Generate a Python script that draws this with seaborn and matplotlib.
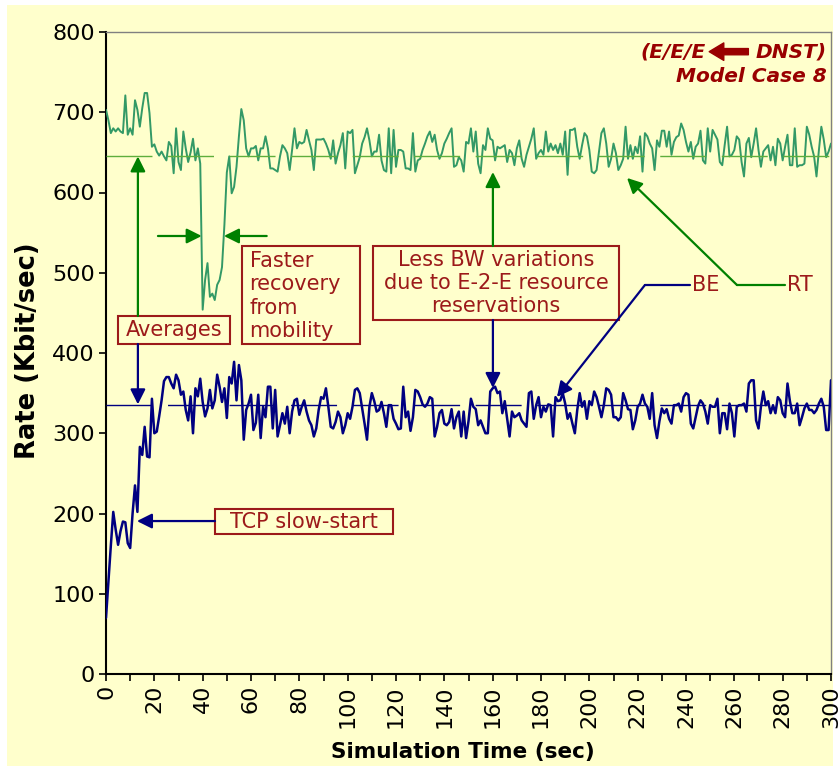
import matplotlib
matplotlib.use("Agg")
import matplotlib.pyplot as plt
from matplotlib.patches import Rectangle
import pandas as pd
import seaborn as sns

# ---- data -------------------------------------------------------------
time_s = list(range(0, 301))

rt_rate = [
    703, 690, 674, 680, 676, 680, 676, 674, 721, 672, 680, 672, 715, 703, 682, 705, 724, 724, 699, 657,
    660, 651, 646, 651, 645, 640, 663, 658, 624, 680, 638, 628, 676, 655, 638, 650, 667, 640, 655, 636,
    454, 491, 512, 470, 474, 466, 485, 491, 507, 560, 625, 645, 599, 607, 632, 670, 704, 690, 655, 645,
    655, 655, 658, 640, 655, 655, 670, 655, 630, 630, 628, 626, 645, 659, 655, 649, 628, 653, 680, 655,
    663, 661, 663, 678, 665, 653, 628, 666, 666, 666, 667, 661, 653, 642, 665, 636, 649, 659, 674, 630,
    676, 674, 678, 624, 634, 644, 661, 669, 680, 665, 645, 651, 651, 672, 640, 628, 626, 680, 624, 678,
    632, 653, 653, 651, 630, 630, 628, 674, 626, 640, 642, 653, 661, 670, 676, 663, 672, 653, 642, 649,
    661, 667, 674, 680, 632, 634, 644, 640, 626, 663, 661, 680, 651, 676, 636, 624, 659, 653, 680, 667,
    665, 640, 657, 655, 657, 659, 638, 653, 649, 634, 655, 665, 642, 632, 647, 657, 667, 680, 642, 649,
    653, 647, 676, 651, 661, 653, 659, 649, 661, 647, 676, 622, 678, 678, 680, 657, 642, 659, 674, 670,
    653, 626, 624, 628, 651, 674, 680, 661, 632, 642, 661, 649, 628, 634, 642, 682, 642, 659, 642, 657,
    649, 670, 626, 674, 670, 661, 655, 628, 665, 657, 677, 677, 657, 676, 647, 663, 669, 671, 686, 678,
    663, 651, 663, 642, 657, 661, 677, 640, 636, 680, 651, 678, 672, 666, 638, 634, 659, 682, 645, 647,
    653, 670, 666, 638, 620, 661, 668, 644, 661, 680, 653, 632, 651, 655, 659, 640, 657, 634, 667, 661,
    640, 657, 672, 634, 634, 680, 632, 634, 634, 636, 682, 672, 657, 645, 620, 653, 682, 666, 644, 651,
    661,
]

be_rate = [
    70, 115, 160, 202, 180, 161, 178, 190, 189, 163, 157, 200, 235, 202, 283, 273, 308, 271, 270, 343,
    300, 302, 321, 341, 365, 370, 370, 362, 356, 373, 366, 348, 352, 329, 316, 346, 300, 356, 346, 368,
    339, 321, 331, 354, 331, 341, 373, 358, 339, 356, 319, 370, 362, 389, 341, 385, 366, 292, 329, 337,
    348, 304, 313, 348, 294, 333, 320, 358, 358, 306, 354, 296, 310, 325, 312, 333, 300, 327, 341, 343,
    323, 333, 341, 327, 316, 310, 296, 306, 329, 345, 343, 356, 333, 308, 306, 314, 327, 320, 300, 310,
    325, 318, 333, 354, 356, 350, 331, 312, 292, 333, 350, 340, 327, 329, 339, 325, 308, 335, 335, 318,
    312, 305, 306, 358, 320, 327, 303, 320, 354, 352, 345, 336, 333, 337, 345, 343, 296, 308, 325, 329,
    312, 310, 314, 330, 306, 320, 327, 296, 327, 294, 315, 343, 333, 330, 310, 316, 308, 300, 300, 352,
    356, 358, 350, 352, 325, 340, 318, 296, 327, 320, 322, 325, 316, 312, 308, 350, 352, 318, 335, 345,
    320, 333, 327, 336, 335, 296, 345, 340, 341, 350, 337, 318, 325, 312, 300, 329, 350, 333, 340, 318,
    340, 335, 352, 345, 333, 320, 335, 356, 354, 348, 320, 320, 316, 320, 350, 341, 330, 329, 305, 316,
    333, 337, 348, 337, 333, 318, 350, 310, 294, 315, 331, 325, 330, 318, 312, 335, 335, 337, 327, 345,
    350, 348, 312, 306, 320, 334, 341, 337, 327, 312, 335, 333, 333, 343, 300, 325, 325, 305, 337, 325,
    296, 333, 335, 335, 337, 327, 362, 366, 366, 316, 306, 333, 352, 335, 340, 325, 335, 325, 345, 341,
    325, 320, 362, 340, 325, 325, 337, 310, 320, 331, 337, 329, 329, 325, 329, 337, 343, 333, 304, 304,
    366,
]

RT_AVG = 645
BE_AVG = 335

x_ticks = list(range(0, 301, 20))
x_minor_ticks = list(range(0, 301, 10))
y_ticks = list(range(0, 801, 100))

# ---- style --------------------------------------------------------------
BG = "#FFFFCC"
RT_COLOR = "#339966"
RT_AVG_COLOR = "#5FAE3C"
BE_COLOR = "#000080"
ARROW_GREEN = "#008000"
NOTE_RED = "#9C1A1A"
TITLE_RED = "#990000"
NOTE_SIZE = 15

sns.set_style("ticks")
plt.rcParams["font.family"] = ["DejaVu Sans"]
plt.rcParams["text.color"] = "black"
plt.rcParams["xtick.color"] = "black"
plt.rcParams["ytick.color"] = "black"

df = pd.DataFrame({"time": time_s, "RT": rt_rate, "BE": be_rate})

fig = plt.figure(figsize=(8.4, 7.71), dpi=100)
fig.patch.set_facecolor("white")
fig.patches.append(Rectangle((7 / 840, 5 / 771), 826 / 840, 761 / 771,
                             transform=fig.transFigure, facecolor=BG,
                             edgecolor="none", zorder=-5))

ax = fig.add_axes([106 / 840, 97 / 771, 725 / 840, 642 / 771])
ax.set_facecolor(BG)

sns.lineplot(data=df, x="time", y="RT", ax=ax, color=RT_COLOR, linewidth=1.4,
             legend=False, zorder=3)
sns.lineplot(data=df, x="time", y="BE", ax=ax, color=BE_COLOR, linewidth=1.8,
             legend=False, zorder=3)

ax.axhline(RT_AVG, color=RT_AVG_COLOR, linewidth=1.0, dashes=(33.1, 11.2), zorder=4)
ax.axhline(BE_AVG, color=BE_COLOR, linewidth=1.0, dashes=(33.1, 11.2), zorder=4)

ax.set_xlim(0, 300)
ax.set_ylim(0, 800)
ax.set_xticks(x_ticks)
ax.set_xticks(x_minor_ticks, minor=True)
ax.set_yticks(y_ticks)
ax.set_xticklabels([str(v) for v in x_ticks], rotation=90, fontsize=16)
ax.set_yticklabels([str(v) for v in y_ticks], fontsize=16)
ax.tick_params(axis="both", which="both", direction="out", length=5, width=1.2,
               color="black", labelcolor="black", pad=3)
ax.set_xlabel("")
ax.set_ylabel("")

for side in ("left", "bottom"):
    ax.spines[side].set_color("black")
    ax.spines[side].set_linewidth(1.5)
for side in ("top", "right"):
    ax.spines[side].set_visible(True)
    ax.spines[side].set_color("#808080")
    ax.spines[side].set_linewidth(1.0)

fig.text(28 / 840, 1 - 351 / 771, "Rate (Kbit/sec)", rotation=90, ha="center",
         va="center", fontsize=18.5, fontweight="bold", color="black")
fig.text(463 / 840, 1 - 752 / 771, "Simulation Time (sec)", ha="center",
         va="center", fontsize=15.5, fontweight="bold", color="black")


# ---- annotations --------------------------------------------------------
def arrow(x0, y0, x1, y1, color):
    ax.annotate("", xy=(x1, y1), xytext=(x0, y0), zorder=6,
                arrowprops=dict(arrowstyle="-|>,head_length=0.9,head_width=0.45",
                                color=color, lw=1.6, shrinkA=0, shrinkB=0,
                                mutation_scale=10))


def note_box(x0, x1, y0, y1):
    ax.add_patch(Rectangle((x0, y0), x1 - x0, y1 - y0, facecolor=BG,
                           edgecolor=NOTE_RED, linewidth=1.5, zorder=5))


# Averages
note_box(5.0, 51.3, 411.2, 446.1)
ax.text(28.1, 428.7, "Averages", ha="center", va="center", color=NOTE_RED,
        fontsize=NOTE_SIZE, zorder=6)
arrow(13.2, 446.1, 13.2, RT_AVG, ARROW_GREEN)
arrow(13.2, 411.2, 13.2, BE_AVG + 1, BE_COLOR)

# Faster recovery from mobility
note_box(56.3, 105.1, 411.2, 533.3)
ax.text(59.4, 471.0, "Faster\nrecovery\nfrom\nmobility", ha="left", va="center",
        color=NOTE_RED, fontsize=NOTE_SIZE, linespacing=1.2, zorder=6)
arrow(21.5, 545.8, 39.6, 545.8, ARROW_GREEN)
arrow(66.5, 545.8, 48.8, 545.8, ARROW_GREEN)

# Less BW variations
note_box(110.5, 212.3, 441.1, 533.3)
ax.text(161.4, 487.2, "Less BW variations\ndue to E-2-E resource\nreservations",
        ha="center", va="center", color=NOTE_RED, fontsize=NOTE_SIZE,
        linespacing=1.2, zorder=6)
arrow(160.1, 533.3, 160.1, 625.5, ARROW_GREEN)
arrow(160.1, 441.1, 160.1, 356.4, BE_COLOR)

# TCP slow-start
note_box(45.1, 118.8, 174.5, 205.6)
ax.text(81.9, 190.0, "TCP slow-start", ha="center", va="center",
        color=NOTE_RED, fontsize=NOTE_SIZE, zorder=6)
arrow(45.1, 190.6, 12.8, 190.6, BE_COLOR)

# Series callouts
ax.text(248.0, 484.7, "BE", ha="center", va="center", color=NOTE_RED,
        fontsize=NOTE_SIZE, zorder=6)
ax.plot([241.6, 223.0], [484.7, 484.7], color=BE_COLOR, lw=1.6, zorder=6)
arrow(223.0, 484.7, 186.6, 345.2, BE_COLOR)

ax.text(287.2, 484.7, "RT", ha="center", va="center", color=NOTE_RED,
        fontsize=NOTE_SIZE, zorder=6)
ax.plot([281.0, 261.1], [484.7, 484.7], color=ARROW_GREEN, lw=1.6, zorder=6)
arrow(261.1, 484.7, 215.6, 618.1, ARROW_GREEN)

# Scenario label
ax.text(248.0, 775.5, "(E/E/E", ha="right", va="center", color=TITLE_RED,
        fontsize=14.5, fontweight="bold", fontstyle="italic", zorder=6)
ax.annotate("", xy=(249.6, 775.5), xytext=(265.8, 775.5), zorder=6,
            arrowprops=dict(arrowstyle="simple,head_length=0.75,head_width=0.9,tail_width=0.32",
                            color=TITLE_RED, shrinkA=0, shrinkB=0, mutation_scale=14))
ax.text(298.3, 775.5, "DNST)", ha="right", va="center", color=TITLE_RED,
        fontsize=14.5, fontweight="bold", fontstyle="italic", zorder=6)
ax.text(298.3, 744.0, "Model Case 8", ha="right", va="center", color=TITLE_RED,
        fontsize=14.5, fontweight="bold", fontstyle="italic", zorder=6)

fig.savefig("out.png", dpi=100, facecolor=fig.get_facecolor())
